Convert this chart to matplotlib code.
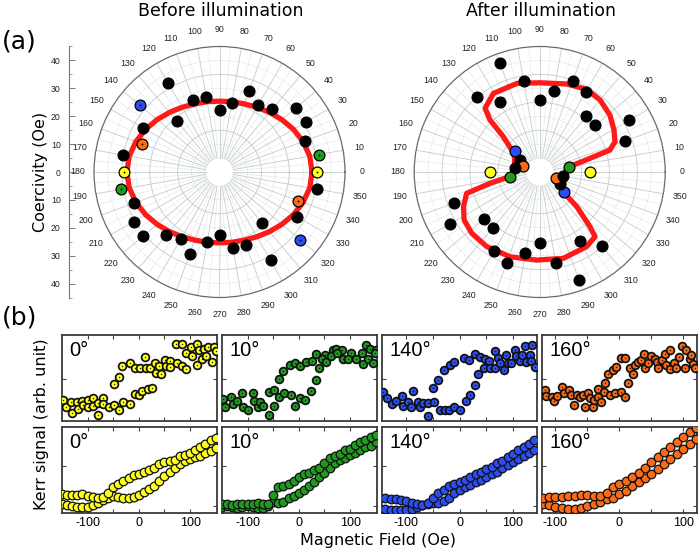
import numpy as np
import matplotlib
matplotlib.use("Agg")
import matplotlib.pyplot as plt
from matplotlib.ticker import FixedLocator

# ------------------------------------------------------------------ data
angles_deg = list(range(0, 360, 10))
coer_before = [34.9, 36.1, 32.6, 35.7, 35.8, 29.4, 27.6, 31.0, 25.2, 22.1, 27.3, 27.6,
               36.8, 23.9, 37.3, 31.8, 29.4, 35.2, 34.4, 36.0, 32.6, 35.6, 35.9, 29.7,
               27.8, 31.3, 25.5, 22.5, 27.5, 27.7, 36.6, 23.9, 37.7, 32.1, 29.9, 35.5]
coer_after = [18.0, 10.8, 32.6, 37.0, 26.0, 26.1, 33.1, 34.8, 29.6, 25.8, 33.0, 41.5,
              28.8, 35.0, 11.6, 8.3, 6.2, 8.9, 17.8, 10.9, 32.6, 37.0, 26.1, 26.1,
              32.9, 34.6, 29.6, 25.6, 33.0, 41.2, 28.6, 34.8, 11.4, 8.3, 6.1, 8.6]
highlight = {0: "#ffff1f", 10: "#1f9a1f", 140: "#2b4df2", 160: "#fb6a14"}

fit_before_theta = list(range(0, 370, 10))
fit_before_r = [33.2, 32.85, 31.9, 30.6, 29.2, 27.9, 26.8, 26.0, 25.6, 25.4, 25.6, 26.0,
                26.8, 27.9, 29.2, 30.6, 31.9, 32.85, 33.2, 32.85, 31.9, 30.6, 29.2, 27.9,
                26.8, 26.0, 25.6, 25.4, 25.6, 26.0, 26.8, 27.9, 29.2, 30.6, 31.9, 32.85, 33.2]

fit_after_theta = [0, 10.2, 15.2, 17.4, 21.9, 29.5, 39, 50, 60.4, 73, 90, 104.5, 120.5,
                   130.6, 133.7, 135.8, 141.8, 150, 165,
                   180, 188.7, 192.9, 196.3, 204.4, 212.4, 222, 234.6, 250.7, 268, 285.3,
                   302.2, 310.6, 312.6, 316.9, 319.7, 330, 345, 360]
fit_after_r = [9.3, 10.8, 18.7, 26.4, 29.1, 30.6, 32.4, 33.7, 34.1, 33.0, 32.0, 32.8, 32.7,
               30.1, 25.8, 18.2, 12.8, 10.4, 9.3,
               9.4, 11.0, 18.3, 27.3, 30.0, 32.1, 32.8, 32.8, 32.2, 31.6, 32.1,
               31.6, 30.5, 26.6, 18.2, 11.4, 9.8, 9.2, 9.3]

# hysteresis loops before illumination (scattered points)
before_0_x = [-148, -143, -132, -130, -120, -118, -111, -109, -100, -99, -90, -89, -80, -79,
              -70, -69, -59, -49, -49, -39, -38, -32, -30, -18, -18, -8, -7, 0, 3, 7, 13, 14,
              18, 21, 25, 31, 33, 39, 43, 51, 53, 61, 61, 72, 74, 84, 84, 92, 93, 101, 104,
              113, 113, 117, 124, 127, 132, 135, 143, 146, 151]
before_0_y = [24, 16, 22, 9, 22, 14, 23, 18, 24, 16, 26, 17, 21, 7,
              26, 20, 16, 18, 43, 51, 12, 64, 22, 67, 19, 62, 31, 30, 62, 35, 74, 62,
              37, 62, 38, 67, 56, 64, 54, 71, 64, 70, 63, 89, 67, 89, 64, 60, 79, 86, 75,
              90, 65, 83, 72, 84, 75, 86, 69, 86, 81]
before_10_x = [-148, -145, -132, -128, -120, -111, -109, -100, -90, -87, -80, -76, -69, -59,
               -59, -49, -38, -28, -16, -49, -39, -30, -18, -8, 3, 14, 25, 33, 51, 66, 72,
               84, 102, 124, 132, 138, 151, -8, 3, 13, 23, 33, 39, 46, 54, 63, 74, 87, 95,
               112, 125, 135, 145, 148]
before_10_y = [25, 16, 28, 20, 23, 32, 16, 12, 32, 23, 16, 22, 17, 7,
               33, 17, 28, 32, 30, 36, 49, 58, 65, 67, 64, 68, 70, 78, 77, 83, 84,
               82, 79, 79, 88, 84, 82, 17, 26, 24, 35, 47, 62, 72, 69, 75, 79, 72, 72,
               72, 66, 72, 67, 79]
before_140_x = [-144, -137, -128, -119, -108, -106, -97, -91, -88, -79, -75, -69, -59, -59,
                -50, -48, -41, -37.5, -29, -28, -21, -19, -11, -11, 0, 8, 11, 17, 19, 28,
                28, 34, 37.5, 46, 47, 54, 56, 66, 67, 72, 75, 84, 87.5, 91, 97, 103, 106,
                112.5, 116, 122, 125, 131, 134, 136, 141]
before_140_y = [34, 26, 19.5, 23, 29, 17, 22, 16, 35, 22, 16, 21, 5, 21,
                38, 22, 47, 12, 59, 13, 12, 65, 69, 16, 12, 73, 23, 71, 30, 78,
                42, 55, 74, 62, 72, 70, 62, 62, 81, 73, 67, 59, 77, 67, 67, 82, 75,
                70, 77, 87, 69, 77, 70, 88, 63]
before_160_x = [-116, -114, -105, -102, -97, -90, -86, -78, -75, -71, -67, -62, -57, -54,
                -49, -46, -41, -40, -34, -33, -28, -24, -23, -18, -15, -10, -7, -5, 2, 3,
                9, 9, 14, 16, 21, 24, 29, 34, 39, 40, 45, 50, 55, 59, 60, 67, 71, 73, 79,
                80, 86, 89, 94, 98, 102, 105, 110, 112.5, 115, 118]
before_160_y = [36, 29, 28, 23, 29, 39, 32, 36, 30, 18, 30, 28, 30, 16,
                32, 26, 16, 24, 37, 28, 22, 33, 44, 55, 30, 59, 32, 63, 33, 73,
                73, 28, 44, 61, 55, 65, 68, 71, 78, 61, 67, 75, 72, 69, 62, 71, 78, 65, 82,
                60, 67, 61, 74, 87, 62, 82, 72, 77, 66, 62]

# hysteresis loops after illumination (two branches)
field_wide = list(range(-150, 151, 10))
after_0_upper = [22, 21, 21, 21, 22, 20, 19, 18, 19, 23, 30, 34, 37.5, 41, 44, 45, 48, 50,
                 53, 57, 59, 61, 62, 66, 68, 70, 74, 77, 81, 85, 88]
after_0_lower = [11, 9, 8, 7, 7, 7, 9, 12, 15, 18, 20, 19, 18, 18, 19, 21, 24, 28, 32, 37,
                 43, 48, 52, 57, 61, 63, 65, 67, 70, 72, 76]
after_10_upper = [11, 10, 9, 10, 10, 11, 11, 12, 11, 10, 21, 30, 32, 34, 37.5, 42, 45, 47,
                  50, 53, 58, 64, 66, 69, 73, 75, 79, 83, 85, 89, 91]
after_10_lower = [7, 8, 7, 6, 7, 8, 7, 6, 6, 8, 13, 12, 13, 17, 19.5, 23, 27, 32, 36, 42,
                  47, 52, 58, 62, 64, 68, 70, 73, 77, 78, 83]
field_mid = list(range(-140, 141, 10))
after_140_upper = [17, 16.5, 16, 15, 14, 12, 10, 9, 12, 17, 23, 27, 31, 34, 36, 39, 42, 45,
                   48, 51, 54, 58, 61, 65, 69, 73, 77, 80, 85]
after_140_lower = [5, 4, 4, 3.5, 4, 5, 7, 9, 11, 12, 12, 14, 17, 23, 27, 30, 33, 36, 39, 42,
                   45, 48, 52, 56, 60, 63, 67, 70, 74]
field_narrow = list(range(-120, 121, 10))
after_160_upper = [17, 19, 19, 19, 19.5, 20, 21, 21.5, 19.5, 20, 23, 30, 34, 37.5, 42, 47,
                   53, 59, 65, 71.5, 77, 83, 89, 95, 99]
after_160_lower = [11, 9, 7, 6, 5, 5, 6, 8, 10, 13, 16, 18, 22, 26, 31, 36, 41, 46, 51, 57,
                   63, 69, 75, 80, 86]

panel_labels = ["0°", "10°", "140°", "160°"]
panel_colors = ["#ffff1f", "#1f9a1f", "#2b4df2", "#fb6a14"]
panel_xlims = [(-150, 152), (-150, 152), (-146, 144.5), (-121, 121)]

# ------------------------------------------------------------------ figure
W, H = 700, 553
fig = plt.figure(figsize=(W / 100, H / 100), dpi=100)
NUM = "Liberation Sans"
TXT = "DejaVu Sans"
grid_c = "#c3cbcb"
R_PX = 125.5


def fx(px):
    return px / W


def fy(py):
    return 1 - py / H


def polar_axes(cx, cy, rvals, fit_t, fit_r, center_dot):
    ax = fig.add_axes([fx(cx - R_PX), fy(cy + R_PX), 2 * R_PX / W, 2 * R_PX / H],
                      projection="polar")
    ax.set_ylim(0, 45)
    ax.set_yticks([])
    ax.grid(False)
    ax.spines["polar"].set_color("#6a6a6a")
    ax.spines["polar"].set_linewidth(0.9)
    ax.set_xticks(np.deg2rad(angles_deg))
    ax.set_xticklabels([str(a) for a in angles_deg], fontsize=6.3, family=NUM,
                       color="#222222")
    ax.xaxis.set_minor_locator(FixedLocator(np.deg2rad(np.arange(5, 360, 10))))
    ax.tick_params(axis="x", which="major", direction="out", length=3.5, width=0.6,
                   color="#666666", pad=1.5)
    ax.tick_params(axis="x", which="minor", direction="out", length=2, width=0.5,
                   color="#777777")
    # grid
    th = np.linspace(0, 2 * np.pi, 721)
    for rr in (15, 25, 35):
        ax.plot(th, np.full_like(th, rr), color=grid_c, lw=0.6, zorder=0.5)
    for rr in (10, 20, 30, 40):
        ax.plot(th, np.full_like(th, rr), color=grid_c, lw=0.5, ls=(0, (1, 1.5)), zorder=0.5)
    for a in range(0, 360, 10):
        t = np.deg2rad(a)
        ax.plot([t, t], [5, 45], color=grid_c, lw=0.6, zorder=0.5)
        t2 = np.deg2rad(a + 5)
        ax.plot([t2, t2], [5, 45], color=grid_c, lw=0.5, ls=(0, (1, 1.5)), zorder=0.5)
    # fit
    ax.plot(np.deg2rad(fit_t), fit_r, color="#ff1a1a", lw=3.8, zorder=2,
            solid_joinstyle="round")
    # points
    for a, r in zip(angles_deg, rvals):
        c = highlight.get(a % 180, "black")
        ax.plot(np.deg2rad(a), r, "o", ms=7.8, mfc=c, mec="black", mew=0.9, zorder=3)
        if center_dot and a % 180 in highlight:
            ax.plot(np.deg2rad(a), r, "o", ms=1.3, mfc="black", mec="none", zorder=4)
    return ax


polar_axes(219.5, 172, coer_before, fit_before_theta, fit_before_r, True)
polar_axes(539.7, 172, coer_after, fit_after_theta, fit_after_r, False)

# radial (coercivity) axis on the left
axr = fig.add_axes([fx(69), fy(172 + R_PX), 0.0005, 2 * R_PX / H])
axr.set_ylim(-45, 45)
axr.set_xticks([])
for s in ("top", "right", "bottom"):
    axr.spines[s].set_visible(False)
axr.spines["left"].set_color("#777777")
axr.spines["left"].set_linewidth(0.8)
yt = list(range(-40, 41, 10))
axr.set_yticks(yt)
axr.set_yticklabels([str(abs(v)) for v in yt], fontsize=6.3, family=NUM, color="#222222")
axr.yaxis.set_minor_locator(FixedLocator(np.arange(-45, 46, 5)))
axr.tick_params(axis="y", which="major", direction="in", length=4, width=0.6,
                color="#666666", pad=6)
axr.tick_params(axis="y", which="minor", direction="in", length=2, width=0.5,
                color="#777777")
axr.patch.set_visible(False)

fig.text(fx(40), fy(172), "Coercivity (Oe)", rotation=90, ha="center", va="center",
         fontsize=11.5, family=TXT)
fig.text(fx(221), fy(11), "Before illumination", ha="center", va="center",
         fontsize=12.5, family=TXT)
fig.text(fx(540.5), fy(11), "After illumination", ha="center", va="center",
         fontsize=12.5, family=TXT)
fig.text(fx(2), fy(42), "(a)", ha="left", va="center", fontsize=18, family=TXT)
fig.text(fx(2), fy(318), "(b)", ha="left", va="center", fontsize=18, family=TXT)

# ------------------------------------------------------------------ loops
lefts = [62, 222, 382, 542]
panel_w = 154.7
tops = [335, 427.3]
panel_h = 85.7

before_sets = [(before_0_x, before_0_y), (before_10_x, before_10_y),
               (before_140_x, before_140_y), (before_160_x, before_160_y)]
after_sets = [(field_wide, after_0_upper, after_0_lower),
              (field_wide, after_10_upper, after_10_lower),
              (field_mid, after_140_upper, after_140_lower),
              (field_narrow, after_160_upper, after_160_lower)]

for col in range(4):
    for row in range(2):
        ax = fig.add_axes([fx(lefts[col]), fy(tops[row] + panel_h), panel_w / W, panel_h / H])
        col_c = panel_colors[col]
        if row == 0:
            bx, by = before_sets[col]
            ax.plot(bx, by, "o", ms=5.6, mfc=col_c, mec="#111111", mew=1.25, zorder=3)
            ax.plot(bx, by, "o", ms=1.0, mfc="#111111", mec="none", zorder=4)
            ax.set_yticks([49])
        else:
            f, up, lo = after_sets[col]
            ax.plot(f, lo, "o", ms=6.2, mfc=col_c, mec="#111111", mew=0.9, zorder=3)
            ax.plot(f, up, "o", ms=6.2, mfc=col_c, mec="#111111", mew=0.9, zorder=3)
            ax.set_yticks([8, 55])
        ax.set_xlim(*panel_xlims[col])
        ax.set_ylim(0, 100)
        ax.set_xticks([-100, 0, 100])
        ax.xaxis.set_minor_locator(FixedLocator([-50, 50]))
        ax.tick_params(which="both", direction="in", top=True, right=True, length=3,
                       width=0.8, color="#444444")
        ax.set_yticklabels([])
        if row == 1:
            ax.set_xticklabels(["-100", "0", "100"], fontsize=9, family=NUM)
            ax.tick_params(axis="x", pad=3)
        else:
            ax.set_xticklabels([])
        for s in ax.spines.values():
            s.set_color("#3a3a3a")
            s.set_linewidth(1.3)
        ax.text(0.05, 0.93, panel_labels[col], transform=ax.transAxes, ha="left", va="top",
                fontsize=14.5, family=NUM)

fig.text(fx(42), fy(424), "Kerr signal (arb. unit)", rotation=90, ha="center",
         va="center", fontsize=11.5, family=TXT)
fig.text(fx(378), fy(540), "Magnetic Field (Oe)", ha="center", va="center",
         fontsize=11.5, family=TXT)

fig.savefig("out.png", dpi=100)
